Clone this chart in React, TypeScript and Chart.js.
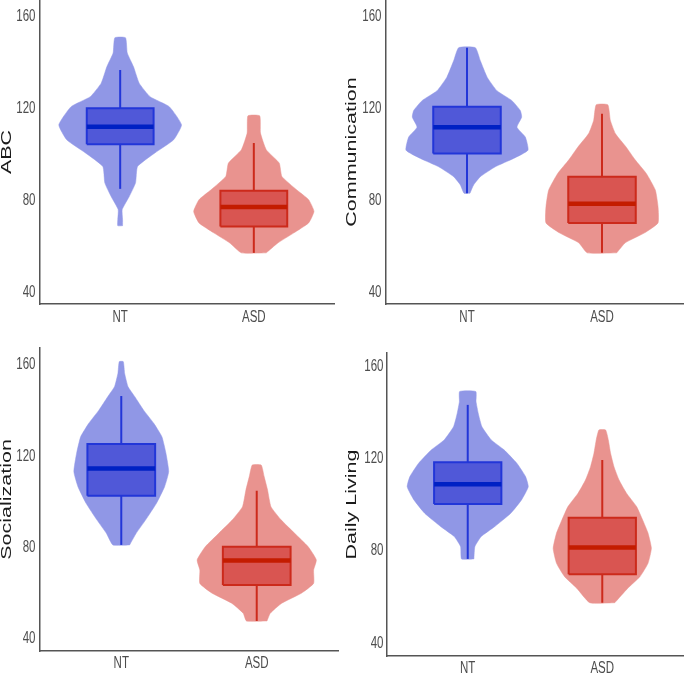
import React, { useEffect, useRef } from 'react';
import { Chart, registerables } from 'chart.js';

Chart.register(...registerables);

// ---------- data ----------
const categories = ['NT', 'ASD'];
const yTickValues = [40, 80, 120, 160];
const measures = ['ABC', 'Communication', 'Socialization', 'Daily Living'];

// violin outlines: score values (bottom -> top) and half widths (in category units)
const abcNtY = [69, 71.6, 76, 81.7, 87.6, 94.7, 100.6, 106.3, 112.8, 120.7, 125, 130.9, 138, 144, 150.6];
const abcNtW = [0.018, 0.018, 0.015, 0.068, 0.115, 0.13, 0.26, 0.4, 0.459, 0.367, 0.224, 0.142, 0.1, 0.053, 0.04];
const abcAsdY = [57.2, 61.5, 65.9, 70.2, 75.2, 80.3, 84.6, 90.4, 96.2, 102, 109.2, 116.7];
const abcAsdW = [0.093, 0.18, 0.3, 0.41, 0.45, 0.41, 0.32, 0.21, 0.19, 0.093, 0.05, 0.044];

const comNtY = [83.1, 86.7, 90.3, 94.6, 98.2, 101.8, 107.5, 111.8, 116.1, 119, 123.3, 127.6, 133.4, 140.6, 146.3];
const comNtW = [0.022, 0.049, 0.099, 0.21, 0.345, 0.452, 0.432, 0.37, 0.405, 0.395, 0.333, 0.222, 0.15, 0.099, 0.062];
const comAsdY = [57.2, 61.6, 65.9, 70.2, 77.3, 84.5, 91.7, 97.5, 103.2, 109, 114.7, 121.5];
const comAsdW = [0.109, 0.173, 0.316, 0.415, 0.415, 0.395, 0.328, 0.247, 0.178, 0.099, 0.062, 0.043];

const socNtY = [81, 86.1, 92, 99.3, 106.6, 113.2, 121.2, 128.5, 134.4, 140.2, 146.1, 150.5, 156.3, 161.5];
const socNtW = [0.062, 0.11, 0.18, 0.26, 0.32, 0.35, 0.33, 0.3, 0.24, 0.165, 0.1, 0.05, 0.025, 0.015];
const socAsdY = [47.6, 51, 55.4, 59.8, 64.1, 70, 74.4, 80.2, 86.1, 92, 97.8, 105.1, 111, 116.1];
const socAsdW = [0.076, 0.1, 0.185, 0.33, 0.42, 0.42, 0.44, 0.38, 0.28, 0.18, 0.105, 0.08, 0.055, 0.033];

const dlNtY = [76.6, 81.9, 86.3, 90.6, 96.4, 102.2, 107.9, 112.3, 118.1, 123.9, 128.2, 134, 139.8, 144.8, 149.2];
const dlNtW = [0.046, 0.053, 0.1, 0.2, 0.32, 0.4, 0.45, 0.43, 0.365, 0.27, 0.175, 0.105, 0.078, 0.062, 0.06];
const dlAsdY = [57.6, 63.9, 68.9, 74.7, 81.2, 87.8, 93.5, 99.3, 105.1, 110.8, 116.6, 122.4, 128.2, 132.5];
const dlAsdW = [0.093, 0.19, 0.28, 0.34, 0.365, 0.34, 0.3, 0.255, 0.18, 0.125, 0.087, 0.062, 0.045, 0.025];

// box stats: [lower whisker, Q1, median, Q3, upper whisker]
const abcNtBox = [85, 104.4, 112, 120, 136.6];
const abcAsdBox = [57.2, 68.7, 77.1, 84.2, 104.9];
const comNtBox = [83.1, 100.3, 111.8, 120.7, 146.3];
const comAsdBox = [57.2, 70.2, 78.5, 90.3, 117.6];
const socNtBox = [81, 102.6, 114.6, 125.3, 146.4];
const socAsdBox = [47.6, 63.4, 74.1, 80.2, 104.8];
const dlNtBox = [76.6, 100.4, 109, 118.5, 143.4];
const dlAsdBox = [57.6, 69.9, 81.6, 94.5, 119.5];

// ---------- styling / layout ----------
const ntColors = { violin: '#9097e6', box: '#5058d8', line: '#2236d8', median: '#0021c4' };
const asdColors = { violin: '#e9938f', box: '#d95551', line: '#cc2a1b', median: '#c41c00' };

const panelData = [
  { title: measures[0], nt: [abcNtY, abcNtW, abcNtBox], asd: [abcAsdY, abcAsdW, abcAsdBox] },
  { title: measures[1], nt: [comNtY, comNtW, comNtBox], asd: [comAsdY, comAsdW, comAsdBox] },
  { title: measures[2], nt: [socNtY, socNtW, socNtBox], asd: [socAsdY, socAsdW, socAsdBox] },
  { title: measures[3], nt: [dlNtY, dlNtW, dlNtBox], asd: [dlAsdY, dlAsdW, dlAsdBox] },
];

const panelLayout = [
  { left: 0, top: 0, w: 340, h: 330, yWidth: 40, xHeight: 26, padTop: 0, padRight: 6, yMin: 35, yMax: 167, titleX: 7, xLabelOff: 14, yLabelGap: 4.5 },
  { left: 340, top: 0, w: 345, h: 330, yWidth: 46, xHeight: 26, padTop: 0, padRight: 2, yMin: 35, yMax: 167, titleX: 12, xLabelOff: 14, yLabelGap: 4.5 },
  { left: 0, top: 330, w: 340, h: 346, yWidth: 40, xHeight: 25, padTop: 18, padRight: 2, yMin: 34.4, yMax: 167.5, titleX: 7, xLabelOff: 12.5, yLabelGap: 4.5 },
  { left: 340, top: 330, w: 345, h: 346, yWidth: 47, xHeight: 20, padTop: 23, padRight: 2, yMin: 34.5, yMax: 165.9, titleX: 12.5, xLabelOff: 12.5, yLabelGap: 3.5 },
];

const axisColor = '#555555';
const BOX_HALF = 0.25;

function groupDatasets(center: number, ys: number[], ws: number[], box: number[], col: any) {
  const [lo, q1, med, q3, hi] = box;
  const right = ys.map((y, i) => ({ x: center + ws[i], y }));
  const left = ys.map((y, i) => ({ x: center - ws[i], y })).reverse();
  const violin = [...right, ...left, right[0]];
  const rect = [
    { x: center - BOX_HALF, y: q1 }, { x: center + BOX_HALF, y: q1 },
    { x: center + BOX_HALF, y: q3 }, { x: center - BOX_HALF, y: q3 }, { x: center - BOX_HALF, y: q1 },
  ];
  const sets: any[] = [
    { data: violin, fill: 'shape', backgroundColor: col.violin, borderColor: col.violin, borderWidth: 0.5, tension: 0.15, order: 10 },
    { data: [{ x: center, y: q3 }, { x: center, y: hi }], borderColor: col.line, borderWidth: 2, order: 5 },
    { data: [{ x: center, y: lo }, { x: center, y: q1 }], borderColor: col.line, borderWidth: 2, order: 5 },
    { data: rect, fill: 'shape', backgroundColor: col.box, borderColor: col.line, borderWidth: 2, borderJoinStyle: 'miter', order: 3 },
    { data: [{ x: center - BOX_HALF, y: med }, { x: center + BOX_HALF, y: med }], borderColor: col.median, borderWidth: 4.5, order: 1 },
  ];
  return sets.map((d) => ({ showLine: true, pointRadius: 0, pointHoverRadius: 0, tension: 0, fill: false, ...d }));
}

// y-axis title, drawn condensed like the original figure
const sideTitlePlugin = {
  id: 'sideTitle',
  afterDraw(chart: any, _args: any, opts: any) {
    const { ctx, chartArea } = chart;
    ctx.save();
    const cy = (chartArea.top + chartArea.bottom) / 2;
    ctx.translate(opts.x, cy);
    ctx.rotate(-Math.PI / 2);
    ctx.scale(1, 0.64);
    ctx.font = "21.5px 'Liberation Sans', Arial, sans-serif";
    ctx.fillStyle = '#1a1a1a';
    ctx.textAlign = 'center';
    ctx.textBaseline = 'middle';
    ctx.fillText(opts.text, 0, 0);
    ctx.restore();
  },
};

// tick labels of the chart's own axes, drawn condensed
const condensedTicksPlugin = {
  id: 'condensedTicks',
  afterDraw(chart: any, _args: any, opts: any) {
    const { ctx } = chart;
    const xs = chart.scales.x;
    const ys = chart.scales.y;
    ctx.save();
    ctx.fillStyle = '#4d4d4d';
    ctx.font = "16px 'Liberation Sans', Arial, sans-serif";
    ctx.textBaseline = 'middle';
    ys.ticks.forEach((t: any, i: number) => {
      const py = ys.getPixelForTick(i);
      ctx.save();
      ctx.translate(ys.right - opts.yGap, py);
      ctx.scale(0.72, 1);
      ctx.textAlign = 'right';
      ctx.fillText(String(t.value), 0, 0);
      ctx.restore();
    });
    xs.ticks.forEach((t: any, i: number) => {
      const px = xs.getPixelForTick(i);
      ctx.save();
      ctx.translate(px, xs.top + opts.xOff);
      ctx.scale(0.72, 1);
      ctx.textAlign = 'center';
      ctx.fillText(categories[Math.round(t.value) - 1] ?? '', 0, 0);
      ctx.restore();
    });
    ctx.restore();
  },
};

function Panel({ index }: { index: number }) {
  const ref = useRef<HTMLCanvasElement>(null);
  const lay = panelLayout[index];
  const pd = panelData[index];
  useEffect(() => {
    const datasets = [
      ...groupDatasets(1, pd.nt[0], pd.nt[1], pd.nt[2], ntColors),
      ...groupDatasets(2, pd.asd[0], pd.asd[1], pd.asd[2], asdColors),
    ];
    const chart = new Chart(ref.current as HTMLCanvasElement, {
      type: 'scatter',
      data: { datasets },
      plugins: [sideTitlePlugin, condensedTicksPlugin],
      options: {
        animation: false,
        responsive: false,
        events: [],
        layout: { padding: { top: lay.padTop, right: lay.padRight, left: 0, bottom: 0 } },
        plugins: {
          legend: { display: false },
          tooltip: { enabled: false },
          sideTitle: { text: pd.title, x: lay.titleX },
          condensedTicks: { xOff: lay.xLabelOff, yGap: lay.yLabelGap },
        } as any,
        scales: {
          x: {
            type: 'linear',
            min: 0.4,
            max: 2.6,
            grid: { display: false, drawTicks: false },
            border: { display: true, color: axisColor, width: 1.5 },
            ticks: { display: false },
            afterBuildTicks: (s: any) => { s.ticks = [1, 2].map((v) => ({ value: v })); },
            afterFit: (s: any) => { s.height = lay.xHeight; s.paddingLeft = 0; s.paddingRight = 0; },
          },
          y: {
            type: 'linear',
            min: lay.yMin,
            max: lay.yMax,
            grid: { display: false, drawTicks: false },
            border: { display: true, color: axisColor, width: 1.5 },
            ticks: { display: false },
            afterBuildTicks: (s: any) => { s.ticks = yTickValues.map((v) => ({ value: v })); },
            afterFit: (s: any) => { s.width = lay.yWidth; s.paddingTop = 0; s.paddingBottom = 0; },
          },
        },
      } as any,
    });
    return () => chart.destroy();
  }, []);
  return (
    <canvas
      ref={ref}
      width={lay.w}
      height={lay.h}
      style={{ position: 'absolute', left: lay.left, top: lay.top, width: lay.w, height: lay.h }}
    />
  );
}

export default function App() {
  return (
    <div style={{ position: 'absolute', left: 0, top: 0, width: 685, height: 676, background: '#ffffff' }}>
      {panelLayout.map((_, i) => (
        <Panel key={i} index={i} />
      ))}
    </div>
  );
}
